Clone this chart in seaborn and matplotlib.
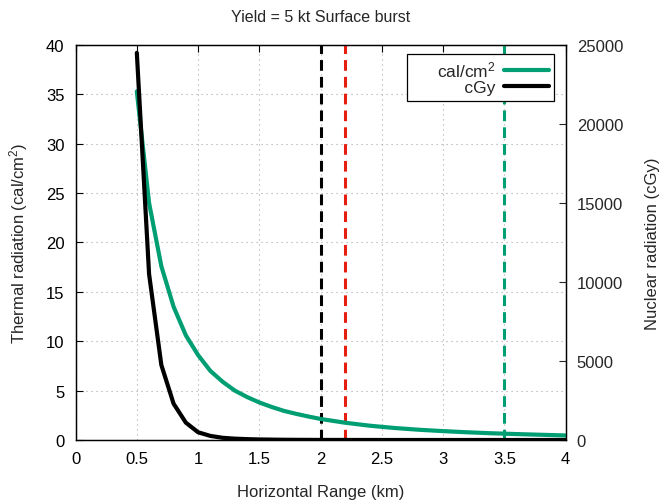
import matplotlib
matplotlib.use("Agg")
import matplotlib.pyplot as plt
import seaborn as sns
import pandas as pd

# Data
range_thermal = [0.5, 0.6, 0.7, 0.8, 0.9, 1.0, 1.1, 1.2, 1.3, 1.4, 1.5, 1.6, 1.7, 1.8, 1.9,
                 2.0, 2.2, 2.4, 2.6, 2.8, 3.0, 3.2, 3.4, 3.6, 3.8, 4.0]
thermal = [35.3, 24.0, 17.6, 13.5, 10.6, 8.6, 7.0, 5.9, 5.0, 4.35, 3.8, 3.35, 2.95, 2.65, 2.38,
           2.13, 1.75, 1.45, 1.22, 1.04, 0.9, 0.78, 0.68, 0.6, 0.53, 0.46]

range_nuclear = [0.5, 0.6, 0.7, 0.8, 0.9, 1.0, 1.1, 1.2, 1.3, 1.4, 1.5, 1.7, 2.0, 2.5, 3.0, 3.5, 4.0]
nuclear = [24500, 10500, 4750, 2300, 1100, 490, 260, 140, 85, 55, 35, 15, 5, 1, 0.3, 0.1, 0.03]

marker_ranges = [2.0, 2.2, 3.5]
marker_colors = ["black", "#e51e10", "#009e73"]

title = "Yield = 5 kt Surface burst"
xlabel = "Horizontal Range (km)"
ylabel_left = "Thermal radiation (cal/cm$^2$)"
ylabel_right = "Nuclear radiation (cGy)"
legend_labels = ["cal/cm$^2$", "cGy"]
xticks = [0, 0.5, 1, 1.5, 2, 2.5, 3, 3.5, 4]
xticklabels = ["0", "0.5", "1", "1.5", "2", "2.5", "3", "3.5", "4"]
yticks_left = [0, 5, 10, 15, 20, 25, 30, 35, 40]
yticks_right = [0, 5000, 10000, 15000, 20000, 25000]

sns.set_style("white")
plt.rcParams['font.family'] = ['Liberation Sans', 'DejaVu Sans']
plt.rcParams['mathtext.default'] = 'regular'
FS = 12

df_t = pd.DataFrame({"x": range_thermal, "y": thermal})
df_n = pd.DataFrame({"x": range_nuclear, "y": nuclear})

fig = plt.figure(figsize=(6.6, 5.02), dpi=100)
ax = fig.add_axes([0.1145, 0.1215, 0.7425, 0.787])
ax2 = ax.twinx()

for xv, c in zip(marker_ranges, marker_colors):
    ax.axvline(xv, color=c, lw=2.2, ls=(0, (3.5, 2)), zorder=3)

sns.lineplot(data=df_t, x="x", y="y", ax=ax, color="#009e73", lw=3, label=legend_labels[0],
             legend=False, zorder=4)
sns.lineplot(data=df_n, x="x", y="y", ax=ax2, color="black", lw=3, label=legend_labels[1],
             legend=False, zorder=4)

ax.set_xlim(0, 4)
ax.set_ylim(0, 40)
ax2.set_ylim(0, 25000)
ax.set_xticks(xticks)
ax.set_xticklabels(xticklabels)
ax.set_yticks(yticks_left)
ax2.set_yticks(yticks_right)

ax.grid(True, color="#a8a8a8", ls=(0, (1, 3.5)), lw=0.8)
ax.set_axisbelow(True)

ax.tick_params(axis="both", direction="in", length=5, width=0.8, top=True,
               labelsize=FS, pad=8, colors="black")
ax.tick_params(axis="y", right=False)
ax2.tick_params(axis="y", direction="in", length=5, width=0.8, labelsize=FS, pad=8)

for a in (ax, ax2):
    for s in a.spines.values():
        s.set_color("black")
        s.set_linewidth(0.9)

ax.set_xlabel(xlabel, fontsize=FS, labelpad=13)
ax.set_ylabel(ylabel_left, fontsize=FS)
ax.yaxis.set_label_coords(-0.092, 0.5)
ax2.set_ylabel(ylabel_right, fontsize=FS, labelpad=16)
ax.set_title(title, fontsize=11.5, pad=17)

h1, _ = ax.get_legend_handles_labels()
h2, _ = ax2.get_legend_handles_labels()
leg = ax2.legend(h1 + h2, ["     " + legend_labels[0], "     " + legend_labels[1]],
                 loc="upper right", bbox_to_anchor=(0.984, 0.985),
                 markerfirst=False, fancybox=False, framealpha=1, edgecolor="black",
                 fontsize=12.5, handlelength=2.6, borderpad=0.3, labelspacing=0.05,
                 handletextpad=0.5, borderaxespad=0.2)
leg.get_frame().set_linewidth(0.9)
for t in leg.get_texts():
    t.set_ha("right")

fig.savefig("out.png", dpi=100)
